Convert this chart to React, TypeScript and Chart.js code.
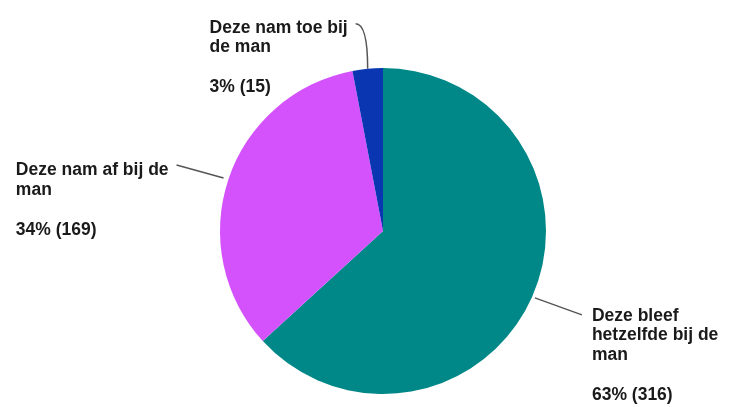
import React, { useEffect, useRef } from "react";
import { Chart, registerables } from "chart.js";

Chart.register(...registerables);

// ---- data ----
const categories: string[][] = [
  ["Deze bleef", "hetzelfde bij de", "man"],
  ["Deze nam af bij de", "man"],
  ["Deze nam toe bij", "de man"],
];
const counts: number[] = [316, 169, 15];
const percentLabels: string[] = ["63% (316)", "34% (169)", "3% (15)"];
const colors: string[] = ["#008888", "#D452FC", "#0A36B2"];

// ---- label styling (leader offsets relative to slice edge) ----
type LeaderStyle = {
  startGap: number;
  end: [number, number];
  ctrl?: [number, number];
  side: "left" | "right";
  textGap: number;
  baseShift: number;
};
const leaderStyles: LeaderStyle[] = [
  { startGap: 3, end: [47, 17], side: "right", textGap: 10, baseShift: 6 },
  { startGap: 5, end: [-47, -13], side: "left", textGap: 8, baseShift: 10 },
  { startGap: 0, end: [-12, -45], ctrl: [0, -45], side: "left", textGap: 8, baseShift: 9 },
];

const FONT = "bold 17.5px 'Liberation Sans', Arial, sans-serif";
const LINE_H = 19.5;
const PCT_GAP = 40;

const labelPlugin = {
  id: "pieLabels",
  afterDatasetsDraw(chart: any) {
    const ctx = chart.ctx as CanvasRenderingContext2D;
    const meta = chart.getDatasetMeta(0);
    ctx.save();
    ctx.font = FONT;
    ctx.fillStyle = "#1a1a1a";
    ctx.textBaseline = "alphabetic";
    meta.data.forEach((arc: any, i: number) => {
      const st = leaderStyles[i];
      const mid = (arc.startAngle + arc.endAngle) / 2;
      const r = arc.outerRadius + st.startGap;
      const sx = arc.x + Math.cos(mid) * r;
      const sy = arc.y + Math.sin(mid) * r;
      const ex = sx + st.end[0];
      const ey = sy + st.end[1];
      ctx.beginPath();
      ctx.strokeStyle = "#555555";
      ctx.lineWidth = 1.5;
      ctx.moveTo(sx, sy);
      if (st.ctrl) {
        ctx.quadraticCurveTo(sx + st.ctrl[0], sy + st.ctrl[1], ex, ey);
      } else {
        ctx.lineTo(ex, ey);
      }
      ctx.stroke();

      const lines = [...categories[i]];
      const w = Math.max(
        ...lines.map((l) => ctx.measureText(l).width),
        ctx.measureText(percentLabels[i]).width
      );
      const x = st.side === "right" ? ex + st.textGap : ex - st.textGap - w;
      const y = ey + st.baseShift;
      ctx.textAlign = "left";
      lines.forEach((l, k) => {
        ctx.fillText(l, x, y + k * LINE_H);
      });
      const lastY = y + (lines.length - 1) * LINE_H;
      ctx.fillText(percentLabels[i], x, lastY + PCT_GAP);
    });
    ctx.restore();
  },
};

export default function App() {
  const ref = useRef<HTMLCanvasElement | null>(null);
  useEffect(() => {
    if (!ref.current) return;
    const chart = new Chart(ref.current, {
      type: "pie",
      data: {
        labels: categories.map((c) => c.join(" ")),
        datasets: [
          {
            data: counts,
            backgroundColor: colors,
            borderWidth: 0,
          },
        ],
      },
      options: {
        responsive: false,
        animation: false,
        layout: { padding: { top: 68, bottom: 13, left: 220, right: 189 } },
        plugins: {
          legend: { display: false },
          tooltip: { enabled: false },
        },
      },
      plugins: [labelPlugin],
    });
    return () => chart.destroy();
  }, []);
  return (
    <div style={{ position: "fixed", left: 0, top: 0, width: 735, height: 407, background: "#ffffff" }}>
      <canvas ref={ref} width={735} height={407} style={{ display: "block" }} />
    </div>
  );
}
